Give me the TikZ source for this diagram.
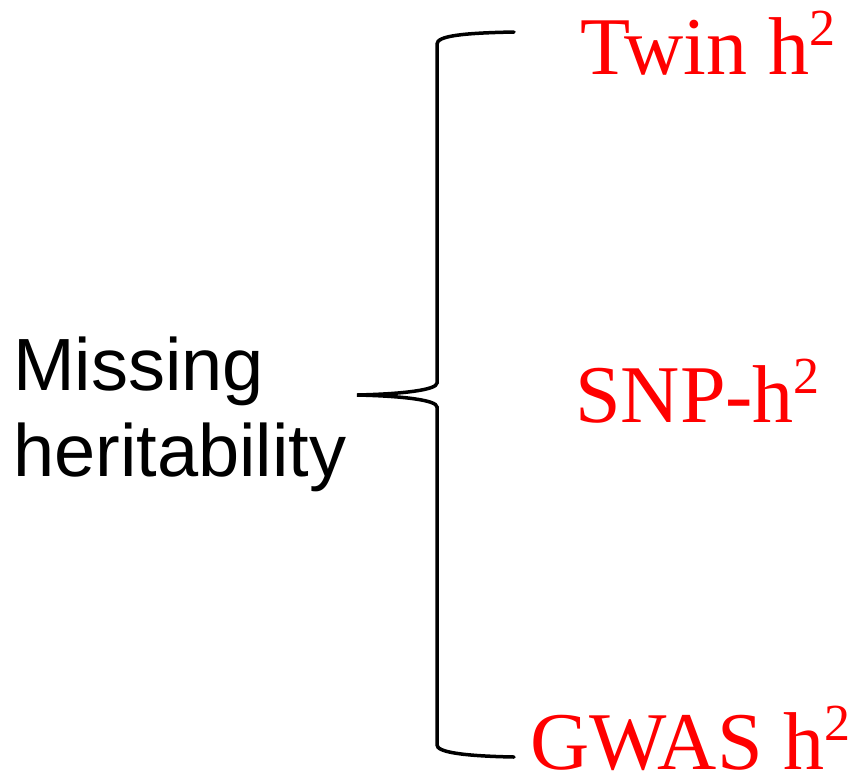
\documentclass[tikz,border=0pt]{standalone}
\usepackage{fontspec}
\setmainfont{Liberation Serif}
\newfontfamily\labelfont{Liberation Sans}
\usepackage{xcolor}

\newcommand{\hsq}{h\raisebox{0.35em}{\fontsize{52}{52}\selectfont 2}}

\tikzset{
    est/.style={anchor=base west, inner sep=0pt, red, font=\fontsize{82}{82}\selectfont},
    lbl/.style={anchor=base west, inner sep=0pt, align=left, font=\labelfont\fontsize{74}{86}\selectfont},
}

\begin{document}
\begin{tikzpicture}[x=1pt, y=-1pt]
    \useasboundingbox (0,0) rectangle (864,780);

    % base of a two-line node sits on its last line
    \node[lbl] (missing) at (13,476) {Missing\\heritability};

    \node[est] (twin) at (580,74) {Twin \hsq};
    \node[est] (snp) at (575,422) {SNP-\hsq};
    \node[est] (gwas) at (530,769) {GWAS \hsq};

    % curly brace
    \draw[line width=3.5pt, line cap=round]
        (514,32) .. controls (462,33) and (437,36) .. (437,44)
        -- (437,383) .. controls (437,390) and (402,394) .. (357,395)
        .. controls (402,396) and (437,400) .. (437,407)
        -- (437,745) .. controls (437,752) and (462,756) .. (514,757);
\end{tikzpicture}
\end{document}
